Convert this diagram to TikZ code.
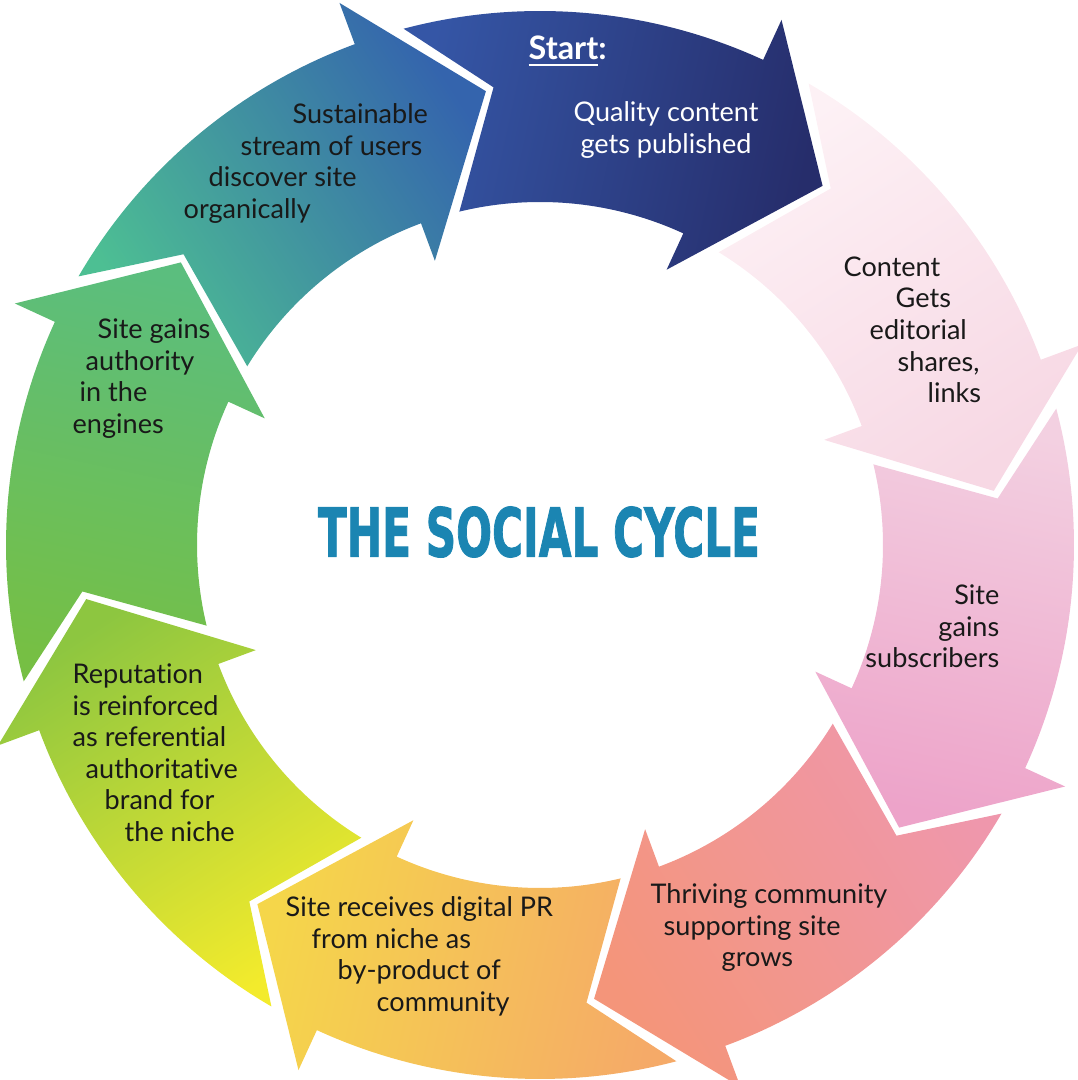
\documentclass[tikz,border=0pt]{standalone}
\usepackage{fontspec}
\usepackage{xcolor}
\usepackage{tikz}
\newfontfamily\labelfont[Ligatures=NoCommon]{Lato}
\newfontfamily\titlefont[BoldFeatures={FakeBold=1.6}]{DejaVu Sans}
% tail and head colour of each arrow
\definecolor{navyA}{HTML}{3556A6}
\definecolor{navyB}{HTML}{262D6B}
\definecolor{blushA}{HTML}{FDF1F5}
\definecolor{blushB}{HTML}{F7D8E4}
\definecolor{pinkA}{HTML}{F3D0E1}
\definecolor{pinkB}{HTML}{EDA3C9}
\definecolor{salmonA}{HTML}{EF97AC}
\definecolor{salmonB}{HTML}{F4957A}
\definecolor{orangeA}{HTML}{F5AA68}
\definecolor{orangeB}{HTML}{F5D64A}
\definecolor{limeA}{HTML}{F3EB2C}
\definecolor{limeB}{HTML}{8DC640}
\definecolor{greenA}{HTML}{76BF44}
\definecolor{greenB}{HTML}{5BBE7E}
\definecolor{tealA}{HTML}{4DBF93}
\definecolor{tealB}{HTML}{3464AD}
\definecolor{titleblue}{HTML}{1B85B2}
\tikzset{
    cycletext/.style={font=\labelfont\fontsize{7.7}{9.0}\selectfont, inner sep=0pt, align=left, anchor=north west, text=black!90},
    starttext/.style={font=\labelfont\bfseries\fontsize{9.2}{11}\selectfont, inner sep=0pt, anchor=base west, text=white},
}
\begin{document}
\begin{tikzpicture}
    \useasboundingbox (0,0) rectangle (10.77,10.80);

    % eight curved arrows, clockwise; \t is the angle of the tip
    \begin{scope}[shift={(5.40,5.35)}]
    \foreach \t/\ca/\cb in {51.8/navyA/navyB, 6.8/blushA/blushB, -38.2/pinkA/pinkB, -83.2/salmonA/salmonB,
                            -128.2/orangeA/orangeB, -173.2/limeA/limeB, 141.8/greenA/greenB, 96.8/tealA/tealB}{
        \pgfmathsetmacro\sa{\t-154}
        \shade[bottom color=\ca, top color=\cb, shading angle=\sa]
            (\t+53:5.34) arc[start angle=\t+53, end angle=\t+13.5, radius=5.34]
            -- (\t+13.5:5.78) -- (\t:4.57) -- (\t+13.5:3.03) -- (\t+13.5:3.43)
            arc[start angle=\t+13.5, end angle=\t+51.8, radius=3.43]
            -- (\t+44:4.6) -- cycle;
    }
    \end{scope}

    \node[starttext] (start) at (5.28,10.20) {\underline{Start}:};
    \node[cycletext, align=center, anchor=north, text=white] (published) at (6.66,9.79) {Quality content\\ gets published};
    \node[cycletext] (editorial) at (8.43,8.24) {Content\\ \hspace*{0.52cm}Gets\\ \hspace*{0.26cm}editorial\\ \hspace*{0.54cm}shares,\\ \hspace*{0.84cm}links};
    \node[cycletext, align=right, anchor=north east] (subscribers) at (10.0,4.96) {Site\\ gains\\ subscribers};
    \node[cycletext] (community) at (6.50,1.97) {Thriving community\\ \hspace*{0.13cm}supporting site\\ \hspace*{0.71cm}grows};
    \node[cycletext] (digitalpr) at (2.85,1.84) {Site receives digital PR\\ \hspace*{0.26cm}from niche as\\ \hspace*{0.52cm}by-product of\\ \hspace*{0.91cm}community};
    \node[cycletext] (reputation) at (0.72,4.17) {Reputation\\ is reinforced\\ as referential\\ \hspace*{0.13cm}authoritative\\ \hspace*{0.32cm}brand for\\ \hspace*{0.52cm}the niche};
    \node[cycletext] (authority) at (0.72,7.62) {\hspace*{0.25cm}Site gains\\ \hspace*{0.13cm}authority\\ \hspace*{0.07cm}in the\\ engines};
    \node[cycletext] (organic) at (1.83,9.77) {\hspace*{1.09cm}Sustainable\\ \hspace*{0.57cm}stream of users\\ \hspace*{0.25cm}discover site\\ organically};

    \node[inner sep=0pt, text=titleblue] (title) at (5.39,5.48) {\resizebox{4.42cm}{0.50cm}{\titlefont\bfseries THE SOCIAL CYCLE}};
\end{tikzpicture}
\end{document}
